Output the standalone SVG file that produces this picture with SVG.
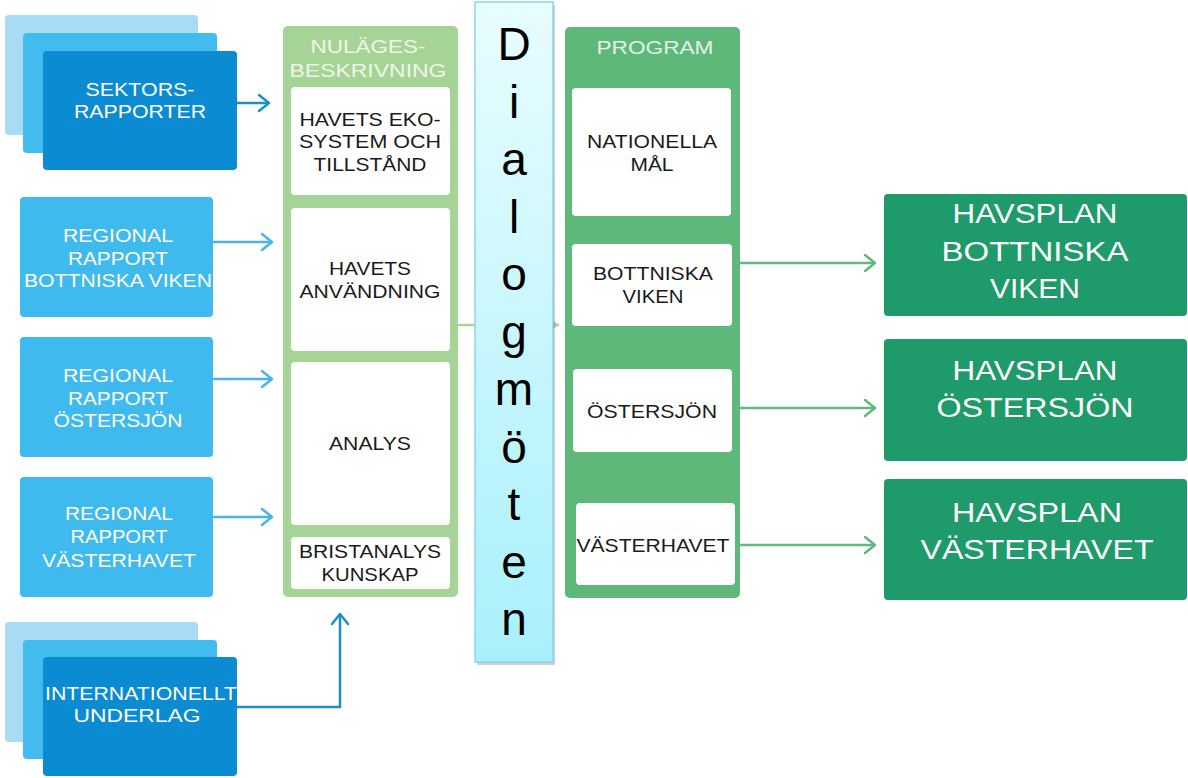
<svg xmlns="http://www.w3.org/2000/svg" width="1188" height="778" viewBox="0 0 1188 778">
<style>
text{font-family:"Liberation Sans",Arial,sans-serif;text-anchor:middle}
.wt{fill:#ffffff;font-size:19px}
.wr{fill:#ffffff;font-size:27px}
.bk{fill:#1a1a1a;font-size:18.5px}
.hd{font-size:19px}
.dl{fill:#000000;font-size:46px}
.inner{fill:#ffffff}
.con{fill:none;stroke-width:2.5}
</style>
<defs>
<linearGradient id="dlg" x1="0" y1="0" x2="0" y2="1">
<stop offset="0" stop-color="#e8fdff"/>
<stop offset="1" stop-color="#a9f0fb"/>
</linearGradient>
<marker id="aDark" viewBox="-12 -10 14 20" refX="0" refY="0" markerWidth="14" markerHeight="20" markerUnits="userSpaceOnUse" orient="auto" overflow="visible">
<path d="M-10,-8 L0,0 L-10,8" fill="none" stroke="#1f8dcc" stroke-width="2.5" stroke-linecap="round" stroke-linejoin="round"/>
</marker>
<marker id="aLight" viewBox="-12 -10 14 20" refX="0" refY="0" markerWidth="14" markerHeight="20" markerUnits="userSpaceOnUse" orient="auto" overflow="visible">
<path d="M-10,-8 L0,0 L-10,8" fill="none" stroke="#4ab4e6" stroke-width="2.5" stroke-linecap="round" stroke-linejoin="round"/>
</marker>
<marker id="aGreen" viewBox="-12 -10 14 20" refX="0" refY="0" markerWidth="14" markerHeight="20" markerUnits="userSpaceOnUse" orient="auto" overflow="visible">
<path d="M-10,-8 L0,0 L-10,8" fill="none" stroke="#63b77f" stroke-width="2.5" stroke-linecap="round" stroke-linejoin="round"/>
</marker>
<marker id="aTri" viewBox="-8 -6 10 12" refX="0" refY="0" markerWidth="10" markerHeight="12" markerUnits="userSpaceOnUse" orient="auto" overflow="visible">
<path d="M-7,-5 L0,0 L-7,5 Z" fill="#a6d396"/>
</marker>
</defs>
<rect width="1188" height="778" fill="#ffffff"/>

<g id="connectors">
<path class="con" d="M237,103 H269" stroke="#1f8dcc" marker-end="url(#aDark)"/>
<path class="con" d="M213,242 H272" stroke="#4ab4e6" marker-end="url(#aLight)"/>
<path class="con" d="M213,379 H272" stroke="#4ab4e6" marker-end="url(#aLight)"/>
<path class="con" d="M213,517 H272" stroke="#4ab4e6" marker-end="url(#aLight)"/>
<path class="con" d="M237,707 H340 V614" stroke="#1f8dcc" marker-end="url(#aDark)"/>
<path class="con" d="M450,325 H559" stroke="#a6d396" stroke-width="3" marker-end="url(#aTri)"/>
<path class="con" d="M731,263 H875" stroke="#63b77f" marker-end="url(#aGreen)"/>
<path class="con" d="M732,408 H875" stroke="#63b77f" marker-end="url(#aGreen)"/>
<path class="con" d="M735,545 H875" stroke="#63b77f" marker-end="url(#aGreen)"/>
</g>

<g id="sektorsrapporter">
<rect x="5" y="15" width="193" height="120" rx="4" fill="#a8dcf6"/>
<rect x="23" y="33" width="194" height="120" rx="4" fill="#42bcef"/>
<rect x="43" y="51" width="194" height="119" rx="4" fill="#0b8bd2"/>
<text class="wt" x="140" y="96" textLength="109" lengthAdjust="spacingAndGlyphs">SEKTORS-</text>
<text class="wt" x="140" y="118" textLength="132" lengthAdjust="spacingAndGlyphs">RAPPORTER</text>
</g>

<g id="regional-bottniska">
<rect x="20" y="197" width="193" height="120" rx="4" fill="#3fbaee"/>
<text class="wt" x="118" y="242" textLength="110" lengthAdjust="spacingAndGlyphs">REGIONAL</text>
<text class="wt" x="118" y="265" textLength="100" lengthAdjust="spacingAndGlyphs">RAPPORT</text>
<text class="wt" x="118" y="287" textLength="188" lengthAdjust="spacingAndGlyphs">BOTTNISKA VIKEN</text>
</g>

<g id="regional-ostersjon">
<rect x="20" y="337" width="193" height="120" rx="4" fill="#3fbaee"/>
<text class="wt" x="118" y="382" textLength="110" lengthAdjust="spacingAndGlyphs">REGIONAL</text>
<text class="wt" x="118" y="405" textLength="100" lengthAdjust="spacingAndGlyphs">RAPPORT</text>
<text class="wt" x="118" y="427" textLength="129" lengthAdjust="spacingAndGlyphs">ÖSTERSJÖN</text>
</g>

<g id="regional-vasterhavet">
<rect x="20" y="477" width="193" height="120" rx="4" fill="#3fbaee"/>
<text class="wt" x="119" y="520" textLength="108" lengthAdjust="spacingAndGlyphs">REGIONAL</text>
<text class="wt" x="119" y="543" textLength="97" lengthAdjust="spacingAndGlyphs">RAPPORT</text>
<text class="wt" x="119" y="567" textLength="154" lengthAdjust="spacingAndGlyphs">VÄSTERHAVET</text>
</g>

<g id="internationellt-underlag">
<rect x="5" y="622" width="193" height="120" rx="4" fill="#a8dcf6"/>
<rect x="23" y="640" width="194" height="119" rx="4" fill="#42bcef"/>
<rect x="43" y="657" width="194" height="119" rx="4" fill="#0b8bd2"/>
<text class="wt" x="141" y="700" textLength="192" lengthAdjust="spacingAndGlyphs">INTERNATIONELLT</text>
<text class="wt" x="137" y="722" textLength="127" lengthAdjust="spacingAndGlyphs">UNDERLAG</text>
</g>

<g id="nulagesbeskrivning">
<rect x="283" y="26" width="175" height="571" rx="5" fill="#a6d396"/>
<text class="hd" x="368" y="53" fill="#eef7e8" textLength="115" lengthAdjust="spacingAndGlyphs">NULÄGES-</text>
<text class="hd" x="368" y="77" fill="#eef7e8" textLength="157" lengthAdjust="spacingAndGlyphs">BESKRIVNING</text>
<g id="havets-ekosystem">
<rect class="inner" x="291" y="87" width="159" height="108" rx="4"/>
<text class="bk" x="370" y="126" textLength="141" lengthAdjust="spacingAndGlyphs">HAVETS EKO-</text>
<text class="bk" x="370" y="148" textLength="142" lengthAdjust="spacingAndGlyphs">SYSTEM OCH</text>
<text class="bk" x="370" y="171" textLength="113" lengthAdjust="spacingAndGlyphs">TILLSTÅND</text>
</g>
<g id="havets-anvandning">
<rect class="inner" x="291" y="208" width="159" height="143" rx="4"/>
<text class="bk" x="370" y="275" textLength="82" lengthAdjust="spacingAndGlyphs">HAVETS</text>
<text class="bk" x="370" y="298" textLength="141" lengthAdjust="spacingAndGlyphs">ANVÄNDNING</text>
</g>
<g id="analys">
<rect class="inner" x="291" y="362" width="159" height="163" rx="4"/>
<text class="bk" x="370" y="450" textLength="82" lengthAdjust="spacingAndGlyphs">ANALYS</text>
</g>
<g id="bristanalys">
<rect class="inner" x="291" y="537" width="159" height="52" rx="4"/>
<text class="bk" x="370" y="558" textLength="142" lengthAdjust="spacingAndGlyphs">BRISTANALYS</text>
<text class="bk" x="370" y="581" textLength="97" lengthAdjust="spacingAndGlyphs">KUNSKAP</text>
</g>
</g>

<g id="dialogmoten">
<rect x="477" y="5" width="78" height="660" fill="#000000" opacity="0.18"/>
<rect x="475" y="2" width="78" height="660" fill="url(#dlg)" stroke="#8cd3ef" stroke-width="1.5"/>
<text class="dl" x="514" y="60">D</text>
<text class="dl" x="514" y="117.5">i</text>
<text class="dl" x="514" y="175">a</text>
<text class="dl" x="514" y="232.5">l</text>
<text class="dl" x="514" y="290">o</text>
<text class="dl" x="514" y="347.5">g</text>
<text class="dl" x="514" y="405">m</text>
<text class="dl" x="514" y="462.5">ö</text>
<text class="dl" x="514" y="520">t</text>
<text class="dl" x="514" y="577.5">e</text>
<text class="dl" x="514" y="635">n</text>
</g>

<g id="program">
<rect x="565" y="27" width="175" height="571" rx="5" fill="#5db87a"/>
<text class="hd" x="655" y="54" fill="#e3f3e6" textLength="117" lengthAdjust="spacingAndGlyphs">PROGRAM</text>
<g id="nationella-mal">
<rect class="inner" x="572" y="88" width="159" height="128" rx="4"/>
<text class="bk" x="652" y="148" textLength="130" lengthAdjust="spacingAndGlyphs">NATIONELLA</text>
<text class="bk" x="652" y="171" textLength="43" lengthAdjust="spacingAndGlyphs">MÅL</text>
</g>
<g id="prog-bottniska">
<rect class="inner" x="572" y="244" width="160" height="82" rx="4"/>
<text class="bk" x="653" y="280" textLength="120" lengthAdjust="spacingAndGlyphs">BOTTNISKA</text>
<text class="bk" x="653" y="303" textLength="61" lengthAdjust="spacingAndGlyphs">VIKEN</text>
</g>
<g id="prog-ostersjon">
<rect class="inner" x="573" y="369" width="159" height="83" rx="4"/>
<text class="bk" x="652" y="418" textLength="130" lengthAdjust="spacingAndGlyphs">ÖSTERSJÖN</text>
</g>
<g id="prog-vasterhavet">
<rect class="inner" x="576" y="503" width="159" height="82" rx="4"/>
<text class="bk" x="653" y="552" textLength="153" lengthAdjust="spacingAndGlyphs">VÄSTERHAVET</text>
</g>
</g>

<g id="havsplan-bottniska">
<rect x="884" y="194" width="303" height="122" rx="4" fill="#1f9a6a"/>
<text class="wr" x="1035" y="223" textLength="165" lengthAdjust="spacingAndGlyphs">HAVSPLAN</text>
<text class="wr" x="1035" y="261" textLength="187" lengthAdjust="spacingAndGlyphs">BOTTNISKA</text>
<text class="wr" x="1035" y="298" textLength="90" lengthAdjust="spacingAndGlyphs">VIKEN</text>
</g>

<g id="havsplan-ostersjon">
<rect x="884" y="339" width="303" height="122" rx="4" fill="#1f9a6a"/>
<text class="wr" x="1035" y="380" textLength="165" lengthAdjust="spacingAndGlyphs">HAVSPLAN</text>
<text class="wr" x="1035" y="417" textLength="197" lengthAdjust="spacingAndGlyphs">ÖSTERSJÖN</text>
</g>

<g id="havsplan-vasterhavet">
<rect x="884" y="479" width="303" height="121" rx="4" fill="#1f9a6a"/>
<text class="wr" x="1037" y="522" textLength="170" lengthAdjust="spacingAndGlyphs">HAVSPLAN</text>
<text class="wr" x="1037" y="559" textLength="233" lengthAdjust="spacingAndGlyphs">VÄSTERHAVET</text>
</g>
</svg>
